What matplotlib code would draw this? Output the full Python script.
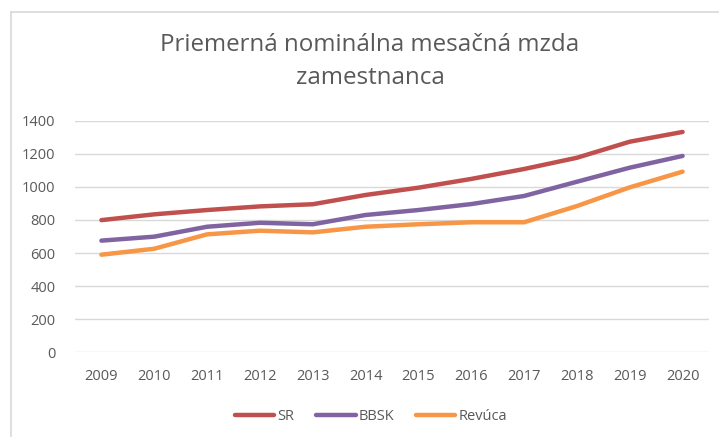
import matplotlib
matplotlib.use("Agg")
import matplotlib.pyplot as plt
from matplotlib.lines import Line2D

years = ["2009", "2010", "2011", "2012", "2013", "2014", "2015", "2016", "2017", "2018", "2019", "2020"]
sr = [799, 834, 860, 882, 895, 951, 995, 1048, 1108, 1176, 1273, 1332]
bbsk = [675, 699, 759, 783, 774, 830, 860, 896, 945, 1031, 1116, 1187]
revuca = [590, 626, 713, 735, 725, 759, 774, 786, 786, 884, 997, 1092]
series_names = ["SR", "BBSK", "Revúca"]

plt.rcParams['font.family'] = ['Open Sans', 'DejaVu Sans']
W, H = 719, 437
fig = plt.figure(figsize=(W / 100, H / 100), dpi=100)
fig.patch.set_facecolor('white')

# chart border (top and left visible)
fig.add_artist(Line2D([11 / W, 11 / W], [0, 1 - 12 / H], transform=fig.transFigure, color='#D9D9D9', lw=1.2))
fig.add_artist(Line2D([11 / W, 1], [1 - 12 / H, 1 - 12 / H], transform=fig.transFigure, color='#D9D9D9', lw=1.2))

left, right = 75 / W, 709 / W
bottom, top = 1 - 352.3 / H, 1 - 120.7 / H
ax = fig.add_axes([left, bottom, right - left, top - bottom])

x = list(range(len(years)))
colors = ['#C0504D', '#8064A2', '#F79646']
for vals, name, c in zip([sr, bbsk, revuca], series_names, colors):
    ax.plot(x, vals, color=c, lw=3.2, solid_capstyle='round', solid_joinstyle='round', label=name)

ax.set_xlim(-0.5, len(years) - 0.5)
ax.set_ylim(0, 1400)
ax.set_yticks(range(0, 1401, 200))
ax.set_xticks(x)
ax.set_xticklabels(years)
ax.grid(axis='y', color='#D9D9D9', lw=1.0)
ax.set_axisbelow(True)
for s in ax.spines.values():
    s.set_visible(False)
ax.tick_params(axis='both', length=0, labelsize=10.5, labelcolor='#595959')
ax.tick_params(axis='x', pad=12)
ax.tick_params(axis='y', pad=14)

fig.text(370 / W, 1 - 45 / H, "Priemerná nominálna mesačná mzda", ha='center', va='center',
         fontsize=17.4, color='#595959')
fig.text(370 / W, 1 - 78 / H, "zamestnanca", ha='center', va='center',
         fontsize=17.4, color='#595959')

leg = fig.legend(loc='center', bbox_to_anchor=(371 / W, 1 - 417 / H), ncol=3, frameon=False,
                 fontsize=10.5, handlelength=2.7, handletextpad=0.2, columnspacing=1.5)
for t in leg.get_texts():
    t.set_color('#595959')

fig.savefig("out.png", dpi=100, facecolor='white')
